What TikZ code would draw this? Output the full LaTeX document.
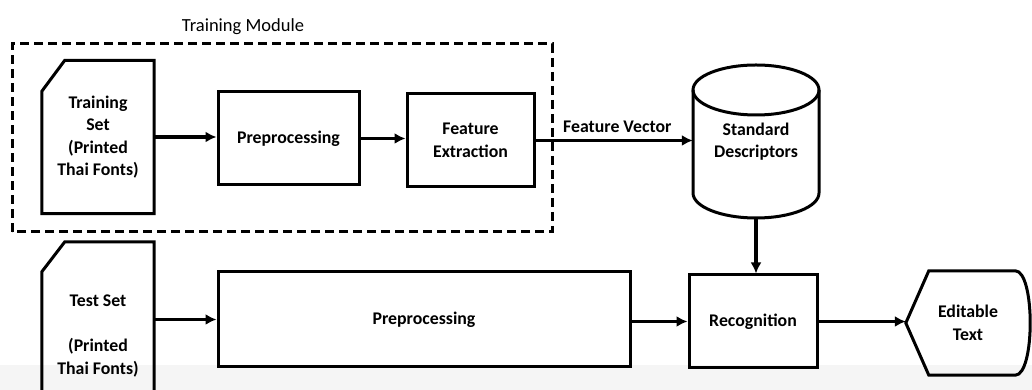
\documentclass[tikz,border=0pt]{standalone}
\usepackage{fontspec}
\setmainfont{Carlito}
\usetikzlibrary{arrows.meta,calc}
\begin{document}
\begin{tikzpicture}[x=1pt,y=1pt,
  lbl/.style={font=\bfseries\fontsize{17.8}{22.5}\selectfont, align=center, text=black},
  blk/.style={lbl, draw, line width=3pt, inner sep=0pt},
  ghost/.style={lbl, inner sep=0pt},
  shapeline/.style={line width=3pt, line join=miter},
  flow/.style={line width=3.2pt, -{Latex[length=11pt,width=11pt]}},
  module/.style={line width=3pt, dash pattern=on 9pt off 5pt}
]
\useasboundingbox (0,0) rectangle (1032,390);
\clip (0,0) rectangle (1032,390);
\fill[black!4] (0,0) rectangle (1032,25);

% training module frame and title
\node[font=\fontsize{18.5}{22}\selectfont] (title) at (243,363) {Training Module};
\draw[module] (12,158) rectangle (552,346);

% training branch
\node[ghost, minimum width=112, minimum height=153] (trainset) at (98,253) {Training\\Set\\(Printed\\Thai Fonts)};
\draw[shapeline] ($(trainset.north west)+(0,-31)$) -- ($(trainset.north west)+(23,0)$)
  -- (trainset.north east) -- (trainset.south east) -- (trainset.south west) -- cycle;

\node[blk, minimum width=141, minimum height=93] (pre1) at (288.5,251.5) {Preprocessing};
\node[blk, minimum width=127, minimum height=93] (fe) at (470.5,249.5) {Feature\\Extraction};

% descriptor database
\node[ghost, minimum width=126, minimum height=153] (db) at (756,248.5) {Standard\\Descriptors};
\draw[shapeline] (693,300) -- (693,197) arc[start angle=180,end angle=360,x radius=63,y radius=25] -- (819,300);
\draw[shapeline] (756,300) ellipse[x radius=63,y radius=25];

% test branch
\node[ghost, minimum width=112, minimum height=188] (testset) at (98,54) {Test Set\\[22.5pt](Printed\\Thai Fonts)};
\draw[shapeline] ($(testset.north west)+(0,-30)$) -- ($(testset.north west)+(23,0)$)
  -- (testset.north east) -- (testset.south east) -- (testset.south west) -- cycle;

\node[blk, minimum width=412, minimum height=95] (pre2) at (424,70.5) {Preprocessing};
\node[blk, minimum width=128, minimum height=93] (rec) at (753,68.5) {Recognition};

\node[ghost, minimum width=124, minimum height=104] (edit) at (968,67) {Editable\\Text};
\draw[shapeline] (edit.west) -- ($(edit.north west)+(23,0)$) -- ($(edit.north east)+(-15,0)$)
  .. controls ($(edit.north east)+(5,0)$) and ($(edit.south east)+(5,0)$) .. ($(edit.south east)+(-15,0)$)
  -- ($(edit.south west)+(23,0)$) -- cycle;

% connectors
\draw[flow] (trainset.east) -- (trainset.east -| pre1.west);
\draw[flow] (pre1.east) -- (pre1.east -| fe.west);
\draw[flow] (fe.east) -- node[lbl, above=3pt, pos=0.52] {Feature Vector} (fe.east -| db.west);
\draw[flow] (db.south) -- (db.south |- rec.north);
\draw[flow] (pre2.west -| testset.east) -- (pre2.west);
\draw[flow] (pre2.east |- rec.west) -- (rec.west);
\draw[flow] (rec.east) -- (rec.east -| edit.west);
\end{tikzpicture}
\end{document}
